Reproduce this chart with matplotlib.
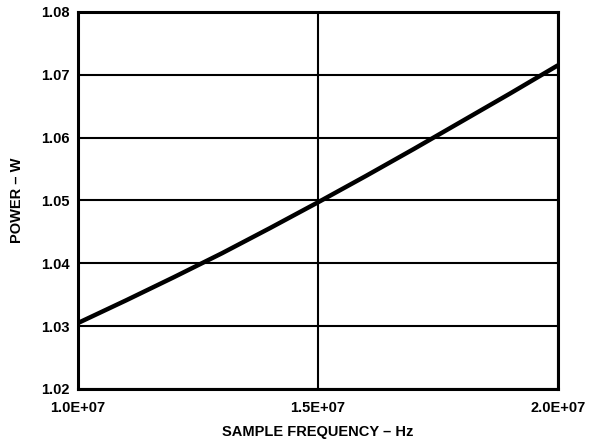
import matplotlib; matplotlib.use('Agg')  # noqa: E702
import matplotlib.pyplot as plt

freq = [1.0e7, 1.1e7, 1.2e7, 1.3e7, 1.4e7, 1.5e7, 1.6e7, 1.7e7, 1.8e7, 1.9e7, 2.0e7]
power = [1.0305, 1.0341, 1.0378, 1.0416, 1.0456, 1.0497, 1.0539, 1.0582, 1.0626, 1.0670, 1.0715]
xticks = [1.0e7, 1.5e7, 2.0e7]
xtick_labels = ['1.0E+07', '1.5E+07', '2.0E+07']
yticks = [1.02, 1.03, 1.04, 1.05, 1.06, 1.07, 1.08]

plt.rcParams['font.family'] = ['Liberation Sans', 'DejaVu Sans']
plt.rcParams['font.weight'] = 'bold'

fig = plt.figure(figsize=(5.96, 4.42), dpi=100)
ax = fig.add_axes([0.131, 0.120, 0.805, 0.853])
ax.plot(freq, power, color='black', lw=3.2, solid_capstyle='butt', zorder=3)
ax.set_xlim(1.0e7, 2.0e7)
ax.set_ylim(1.02, 1.08)
ax.set_xticks(xticks)
ax.set_xticklabels(xtick_labels)
ax.set_yticks(yticks)
ax.set_yticklabels([f'{v:.2f}' for v in yticks])
ax.grid(True, color='black', lw=1.5)
ax.tick_params(length=0, labelsize=10.5, pad=6)
ax.tick_params(axis='x', pad=9)
for s in ax.spines.values():
    s.set_linewidth(2.2)
ax.set_xlabel('SAMPLE FREQUENCY – Hz', fontsize=10.5, fontweight='bold', labelpad=7)
ax.set_ylabel('POWER – W', fontsize=10.5, fontweight='bold', labelpad=12)
fig.savefig('out.png', dpi=100)
